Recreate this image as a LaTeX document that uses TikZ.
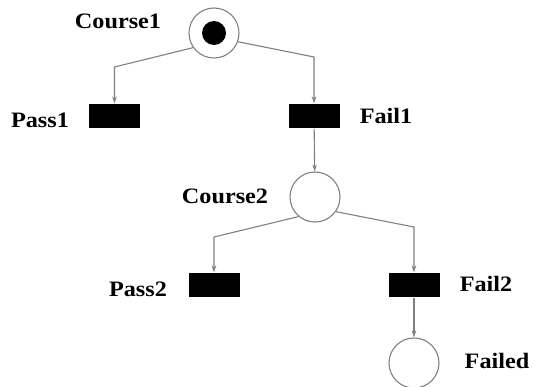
\documentclass[tikz,border=0pt]{standalone}
\usepackage{fontspec}
\setmainfont{Liberation Serif}
\newfontfamily\netfont[FakeStretch=1.1]{Liberation Serif}
\usetikzlibrary{arrows.meta}

\begin{document}
\begin{tikzpicture}[x=1pt, y=-1pt, line width=1.1pt,
                    place node/.style={circle,draw=gray,minimum size=50pt,inner sep=0pt},
                    trans node/.style={rectangle,fill=black,minimum width=51pt,minimum height=24pt,inner sep=0pt},
                    name node/.style={font=\netfont\fontsize{22}{24}\selectfont\bfseries,inner sep=0pt},
                    arc/.style={draw=gray,-{Stealth[length=7pt,width=4.5pt]}}]

\useasboundingbox (0,0) rectangle (534,386);

\node[place node] (course1) at (214,33) {};
  \fill (course1) circle (12pt);
\node[trans node] (pass1) at (114.5,116) {};
\node[trans node] (fail1) at (314,116) {};
\node[place node] (course2) at (315,197) {};
\node[trans node] (pass2) at (214,285) {};
\node[trans node] (fail2) at (414,285) {};
\node[place node] (failed) at (414,363) {};

\node[name node] (lcourse1) at (118,21) {Course1};
\node[name node] (lpass1) at (40,120) {Pass1};
\node[name node] (lfail1) at (386,116) {Fail1};
\node[name node] (lcourse2) at (225,196) {Course2};
\node[name node] (lpass2) at (138,289) {Pass2};
\node[name node] (lfail2) at (486,284) {Fail2};
\node[name node] (lfailed) at (497,361) {Failed};

\coordinate (b1) at (114.5,67);
\coordinate (b2) at (314,57);
\coordinate (b3) at (214,237);
\coordinate (b4) at (414,227);

\draw[arc] (course1.215) -- (b1) -- (pass1.north);
\draw[arc] (course1.-20) -- (b2) -- (fail1.north);
\draw[arc] (fail1) -- (course2);
\draw[arc] (course2.230) -- (b3) -- (pass2.north);
\draw[arc] (course2.-35) -- (b4) -- (fail2.north);
\draw[arc] (fail2) -- (failed);

\end{tikzpicture}
\end{document}
